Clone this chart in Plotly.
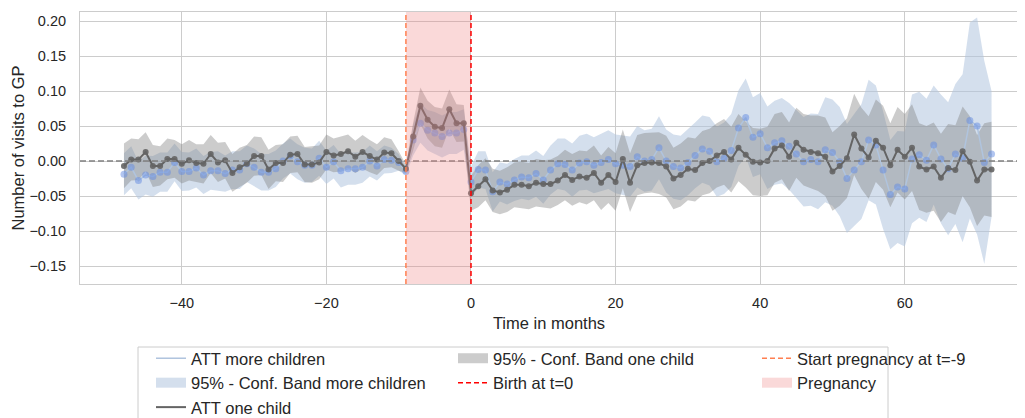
import plotly.graph_objects as go

# ---------------- data ----------------
months = list(range(-48, 73))

att_one = [
    -0.007, 0.002, 0.002, 0.013, -0.007, -0.007, 0.003, 0.003, -0.004, 0.001,
    -0.003, -0.004, 0.010, -0.002, 0.001, -0.017, -0.009, -0.004, 0.007, 0.007,
    -0.012, -0.003, -0.003, 0.009, 0.010, -0.005, -0.005, -0.002, 0.013, 0.008,
    0.010, 0.014, 0.006, 0.013, 0.007, 0.002, 0.012, 0.011, 0.000, -0.011,
    0.035, 0.079, 0.059, 0.049, 0.047, 0.074, 0.054, 0.054, -0.046, -0.036,
    -0.026, -0.042, -0.045, -0.041, -0.034, -0.034, -0.036, -0.031, -0.033, -0.033,
    -0.028, -0.020, -0.027, -0.022, -0.024, -0.017, -0.031, -0.020, -0.030, 0.003,
    -0.031, -0.006, -0.003, -0.002, -0.003, -0.008, -0.025, -0.020, -0.011, -0.013,
    -0.003, 0.000, 0.008, 0.013, 0.002, 0.019, 0.009, -0.001, -0.002, 0.000,
    0.018, 0.022, 0.006, 0.026, 0.016, 0.013, 0.011, 0.006, -0.015, -0.007,
    0.004, 0.038, 0.018, 0.005, 0.029, 0.019, -0.006, 0.016, 0.006, 0.019,
    -0.008, -0.012, -0.008, -0.024, -0.010, -0.013, 0.014, -0.001, -0.028, -0.012,
    -0.012,
]

hw_one = [
    0.032, 0.030, 0.029, 0.028, 0.030, 0.028, 0.029, 0.027, 0.028, 0.029,
    0.027, 0.028, 0.027, 0.028, 0.026, 0.027, 0.028, 0.027, 0.028, 0.027,
    0.028, 0.026, 0.027, 0.026, 0.026, 0.025, 0.026, 0.024, 0.025, 0.024,
    0.025, 0.024, 0.023, 0.024, 0.023, 0.022, 0.022, 0.020, 0.014, 0.006,
    0.020, 0.026, 0.027, 0.028, 0.028, 0.028, 0.027, 0.026, 0.025, 0.030,
    0.030, 0.031, 0.031, 0.032, 0.032, 0.033, 0.033, 0.034, 0.034, 0.035,
    0.035, 0.036, 0.037, 0.037, 0.038, 0.039, 0.039, 0.040, 0.041, 0.042,
    0.042, 0.043, 0.043, 0.043, 0.044, 0.044, 0.044, 0.045, 0.045, 0.045,
    0.046, 0.046, 0.046, 0.047, 0.047, 0.048, 0.047, 0.048, 0.048, 0.049,
    0.049, 0.048, 0.049, 0.050, 0.051, 0.052, 0.054, 0.056, 0.056, 0.057,
    0.057, 0.058, 0.058, 0.059, 0.059, 0.060, 0.060, 0.061, 0.061, 0.062,
    0.062, 0.062, 0.063, 0.063, 0.063, 0.064, 0.064, 0.065, 0.065, 0.066,
    0.068,
]

att_more = [
    -0.019, -0.009, -0.028, -0.020, -0.022, -0.016, -0.016, -0.002, -0.015, -0.015,
    -0.010, -0.020, -0.014, -0.014, -0.018, -0.013, -0.013, -0.004, -0.009, -0.016,
    -0.016, -0.011, 0.000, 0.007, -0.001, -0.006, -0.006, 0.004, -0.009, -0.001,
    -0.014, -0.011, -0.011, -0.009, 0.000, -0.007, 0.002, 0.001, -0.002, -0.015,
    0.030, 0.054, 0.044, 0.040, 0.035, 0.040, 0.040, 0.045, -0.030, -0.012,
    -0.013, -0.044, -0.030, -0.033, -0.027, -0.023, -0.024, -0.018, -0.027, -0.013,
    -0.004, -0.005, -0.013, -0.003, -0.001, -0.006, -0.002, 0.002, -0.004, -0.006,
    -0.008, 0.006, 0.000, 0.002, 0.019, 0.000, -0.008, -0.010, -0.002, 0.008,
    0.017, 0.014, -0.001, 0.004, 0.015, 0.047, 0.062, 0.034, 0.039, 0.019,
    0.026, 0.029, 0.021, 0.010, -0.001, 0.002, -0.001, 0.016, 0.012, -0.001,
    -0.025, -0.013, -0.001, 0.030, 0.023, -0.013, -0.048, -0.037, -0.040, 0.003,
    0.009, 0.001, 0.023, 0.003, -0.011, 0.010, 0.004, 0.058, 0.050, -0.002,
    0.010,
]

hw_more = [
    0.030, 0.030, 0.027, 0.028, 0.029, 0.028, 0.028, 0.027, 0.028, 0.027,
    0.028, 0.027, 0.027, 0.028, 0.026, 0.027, 0.027, 0.026, 0.027, 0.026,
    0.026, 0.026, 0.025, 0.025, 0.025, 0.025, 0.024, 0.025, 0.024, 0.024,
    0.024, 0.023, 0.023, 0.022, 0.022, 0.021, 0.020, 0.018, 0.012, 0.005,
    0.022, 0.028, 0.029, 0.030, 0.030, 0.030, 0.030, 0.029, 0.022, 0.026,
    0.027, 0.028, 0.028, 0.029, 0.030, 0.031, 0.032, 0.033, 0.034, 0.035,
    0.036, 0.037, 0.038, 0.039, 0.040, 0.040, 0.041, 0.042, 0.042, 0.043,
    0.043, 0.044, 0.044, 0.044, 0.045, 0.045, 0.046, 0.046, 0.047, 0.047,
    0.048, 0.049, 0.050, 0.051, 0.052, 0.054, 0.056, 0.057, 0.058, 0.059,
    0.060, 0.061, 0.062, 0.063, 0.064, 0.066, 0.068, 0.075, 0.076, 0.078,
    0.078, 0.080, 0.082, 0.086, 0.085, 0.084, 0.078, 0.080, 0.082, 0.092,
    0.090, 0.088, 0.085, 0.092, 0.095, 0.100, 0.120, 0.140, 0.155, 0.145,
    0.090,
]

PREG_START = -9
BIRTH = 0
x_ticks = [-40, -20, 0, 20, 40, 60]
y_ticks = [-0.15, -0.10, -0.05, 0.00, 0.05, 0.10, 0.15, 0.20]

assert len(months) == len(att_one) == len(hw_one) == len(att_more) == len(hw_more)

lo_one = [a - h for a, h in zip(att_one, hw_one)]
hi_one = [a + h for a, h in zip(att_one, hw_one)]
lo_more = [a - h for a, h in zip(att_more, hw_more)]
hi_more = [a + h for a, h in zip(att_more, hw_more)]

# ---------------- styling ----------------
FONT = "Liberation Sans, Arial, sans-serif"
TXT = "#262626"
GRID = "#cccccc"
BLUE_BAND = "rgba(176,196,222,0.55)"
GRAY_BAND = "rgba(128,128,128,0.40)"
BLUE_LINE = "rgb(176,196,222)"
BLUE_MARK = "rgba(100,140,225,0.5)"
GRAY_LINE = "rgb(100,100,100)"
PINK = "rgba(240,128,128,0.30)"

fig = go.Figure()

# confidence band: more children
fig.add_trace(go.Scatter(x=months, y=lo_more, mode="lines", line=dict(width=0),
                         showlegend=False, hoverinfo="skip"))
fig.add_trace(go.Scatter(x=months, y=hi_more, mode="lines", line=dict(width=0),
                         fill="tonexty", fillcolor=BLUE_BAND, showlegend=False,
                         name="95% - Conf. Band more children"))
# confidence band: one child
fig.add_trace(go.Scatter(x=months, y=lo_one, mode="lines", line=dict(width=0),
                         showlegend=False, hoverinfo="skip"))
fig.add_trace(go.Scatter(x=months, y=hi_one, mode="lines", line=dict(width=0),
                         fill="tonexty", fillcolor=GRAY_BAND, showlegend=False,
                         name="95% - Conf. Band one child"))

# ATT more children
fig.add_trace(go.Scatter(x=months, y=att_more, mode="lines",
                         line=dict(color=BLUE_LINE, width=1.5),
                         name="ATT more children", legend="legend", legendrank=1))
fig.add_trace(go.Scatter(x=months, y=att_more, mode="markers",
                         marker=dict(size=7, color=BLUE_MARK, line=dict(width=0)),
                         showlegend=False))
# ATT one child
fig.add_trace(go.Scatter(x=months, y=att_one, mode="lines",
                         line=dict(color=GRAY_LINE, width=2),
                         name="ATT one child", legend="legend", legendrank=3))
fig.add_trace(go.Scatter(x=months, y=att_one, mode="markers",
                         marker=dict(size=6, color="rgba(100,100,100,0.9)", line=dict(width=0)),
                         showlegend=False))

# legend-only entries (patches drawn as thick legend lines, like matplotlib patches)
fig.add_trace(go.Scatter(x=[None], y=[None], mode="lines",
                         line=dict(color=BLUE_BAND, width=12),
                         name="95% - Conf. Band more children", legend="legend", legendrank=2))
fig.add_trace(go.Scatter(x=[None], y=[None], mode="lines",
                         line=dict(color=GRAY_BAND, width=12),
                         name="95% - Conf. Band one child", legend="legend2", legendrank=1))
fig.add_trace(go.Scatter(x=[None], y=[None], mode="lines",
                         line=dict(color="red", width=1.5, dash="5px,3px"),
                         name="Birth at t=0", legend="legend2", legendrank=2))
fig.add_trace(go.Scatter(x=[None], y=[None], mode="lines",
                         line=dict(color="coral", width=1.5, dash="5px,3px"),
                         name="Start pregnancy at t=-9", legend="legend3", legendrank=1))
fig.add_trace(go.Scatter(x=[None], y=[None], mode="lines",
                         line=dict(color=PINK, width=12),
                         name="Pregnancy", legend="legend3", legendrank=2))

# zero line, pregnancy span, vertical lines
fig.add_shape(type="line", xref="paper", x0=0, x1=1, yref="y", y0=0, y1=0,
              line=dict(color="rgb(128,128,128)", width=1.5, dash="6px,3px"), layer="above")
fig.add_shape(type="rect", xref="x", x0=PREG_START, x1=BIRTH, yref="paper", y0=0, y1=1,
              fillcolor=PINK, line=dict(width=0), layer="above")
fig.add_shape(type="line", xref="x", x0=PREG_START, x1=PREG_START, yref="paper", y0=0, y1=1,
              line=dict(color="coral", width=1.5, dash="5px,3px"), layer="above")
fig.add_shape(type="line", xref="x", x0=BIRTH, x1=BIRTH, yref="paper", y0=0, y1=1,
              line=dict(color="red", width=1.5, dash="5px,3px"), layer="above")

# the page body adds an 8 px offset; plot area should sit at page x 80..1018, y 12..284
OFF = 8
PW, PH = 938.0, 272.0
def px_x(px):
    return (px - 80) / PW
def px_y(py):
    return (284 - py) / PH

fig.add_shape(type="rect", xref="paper", yref="paper",
              x0=px_x(138), x1=px_x(888), y0=px_y(347), y1=px_y(440),
              line=dict(color=GRID, width=1), fillcolor="rgba(0,0,0,0)", layer="above")

leg_common = dict(orientation="v", yanchor="top", xanchor="left", bgcolor="rgba(0,0,0,0)",
                  borderwidth=0, traceorder="normal", tracegroupgap=0,
                  font=dict(size=16.5, family=FONT, color=TXT))

fig.update_layout(
    width=1025 - OFF, height=418 - OFF,
    margin=dict(l=80 - OFF, r=7, t=12 - OFF, b=134, autoexpand=False),
    paper_bgcolor="white", plot_bgcolor="white",
    font=dict(family=FONT, color=TXT, size=15),
    showlegend=True,
    legend=dict(x=px_x(151), y=px_y(341), **leg_common),
    legend2=dict(x=px_x(453), y=px_y(341), **leg_common),
    legend3=dict(x=px_x(757), y=px_y(341), **leg_common),
    xaxis=dict(range=[-54.08, 75.66], tickvals=x_ticks, showgrid=True, gridcolor=GRID,
               gridwidth=1, zeroline=False, showline=True, linecolor=GRID, mirror=True,
               ticks="", ticklabelstandoff=6, tickfont=dict(size=14.5),
               title=dict(text="Time in months", font=dict(size=16.5), standoff=7)),
    yaxis=dict(range=[-0.1757, 0.2129], tickvals=y_ticks, tickformat=".2f", showgrid=True,
               gridcolor=GRID, gridwidth=1, zeroline=False, showline=True, linecolor=GRID,
               mirror=True, ticks="", ticklabelstandoff=10, tickfont=dict(size=14.5),
               title=dict(text="Number of visits to GP", font=dict(size=16.5), standoff=0)),
)

fig.write_html("out.html")
